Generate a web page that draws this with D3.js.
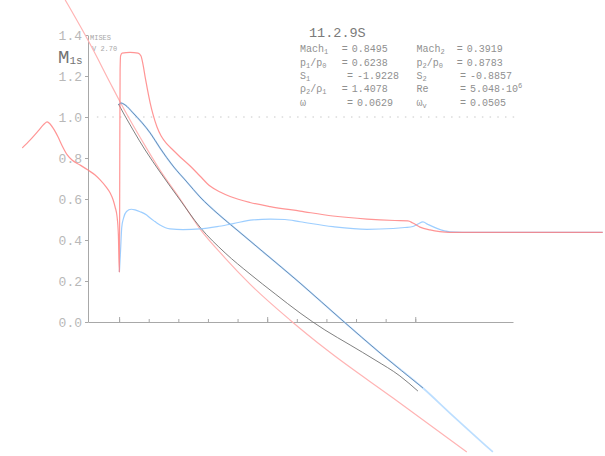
<!DOCTYPE html>
<html>
<head>
<meta charset="utf-8">
<script src="https://cdn.jsdelivr.net/npm/d3@7/dist/d3.min.js"></script>
<style>
  body { margin: 0; background: #fff; }
  svg { display: block; }
  text { font-family: "Liberation Mono", "DejaVu Sans Mono", monospace; }
</style>
</head>
<body>
<script>
// Surface Mach number distributions, x in chord units, values as [x, M]
const machUpper = [
  [-0.327, 0.849], [-0.300, 0.888], [-0.273, 0.932], [-0.253, 0.966], [-0.243, 0.976],
  [-0.233, 0.966], [-0.219, 0.937], [-0.206, 0.902], [-0.192, 0.859], [-0.175, 0.815],
  [-0.159, 0.790], [-0.132, 0.766], [-0.105, 0.741], [-0.081, 0.717], [-0.064, 0.693],
  [-0.044, 0.659], [-0.030, 0.629], [-0.020, 0.595], [-0.0135, 0.561], [-0.0067, 0.512],
  [-0.0024, 0.424], [0.0007, 0.244], [0.0017, 0.449], [0.0024, 0.839], [0.0034, 1.229],
  [0.005, 1.298], [0.010, 1.312], [0.037, 1.315], [0.064, 1.312], [0.074, 1.298],
  [0.081, 1.254], [0.088, 1.195], [0.096, 1.132], [0.105, 1.068], [0.115, 1.010],
  [0.128, 0.951], [0.142, 0.907], [0.162, 0.868], [0.182, 0.839], [0.206, 0.805],
  [0.240, 0.761], [0.273, 0.712], [0.307, 0.663], [0.341, 0.634], [0.375, 0.612],
  [0.442, 0.583], [0.510, 0.563], [0.611, 0.541], [0.722, 0.517], [0.837, 0.502],
  [0.931, 0.495], [0.975, 0.493], [0.992, 0.483], [1.016, 0.463], [1.050, 0.449],
  [1.083, 0.441], [1.117, 0.4376], [1.286, 0.437], [1.633, 0.437]
];

const machLower = [
  [0.001, 0.244], [0.005, 0.351], [0.009, 0.463], [0.015, 0.507], [0.025, 0.539],
  [0.041, 0.550], [0.054, 0.547], [0.071, 0.538], [0.093, 0.522], [0.105, 0.507],
  [0.121, 0.490], [0.138, 0.473], [0.172, 0.454], [0.216, 0.451], [0.273, 0.454],
  [0.331, 0.465], [0.385, 0.480], [0.452, 0.498], [0.510, 0.502], [0.560, 0.500],
  [0.611, 0.489], [0.722, 0.465], [0.837, 0.452], [0.925, 0.456], [0.965, 0.461],
  [0.992, 0.466], [1.009, 0.478], [1.026, 0.488], [1.043, 0.476], [1.073, 0.457],
  [1.117, 0.440], [1.161, 0.4376], [1.633, 0.437]
];

// Streamline / contour traces drawn in the same frame
const refLine = [
  [-0.182, 1.571], [-0.172, 1.546], [-0.098, 1.356], [-0.030, 1.166], [0.000, 1.083],
  [0.037, 0.985], [0.088, 0.859], [0.138, 0.741], [0.206, 0.600], [0.273, 0.454],
  [0.358, 0.312], [0.442, 0.185], [0.577, 0.010], [0.702, -0.137], [0.925, -0.371],
  [1.174, -0.634]
];

const contourGray = [
  [-0.002, 1.063], [0.020, 1.005], [0.047, 0.937], [0.088, 0.839], [0.138, 0.732],
  [0.206, 0.595], [0.273, 0.463], [0.358, 0.337], [0.442, 0.234], [0.527, 0.137],
  [0.611, 0.044], [0.695, -0.039], [0.780, -0.112], [0.864, -0.185], [0.948, -0.263],
  [1.009, -0.337]
];

const contourBlue = [
  [-0.002, 1.059], [0.007, 1.068], [0.020, 1.059], [0.047, 1.020], [0.105, 0.922],
  [0.138, 0.849], [0.182, 0.761], [0.229, 0.683], [0.273, 0.610], [0.334, 0.527],
  [0.398, 0.449], [0.483, 0.346], [0.611, 0.190], [0.756, 0.005], [0.881, -0.151],
  [1.026, -0.322]
];

const contourBlueTail = [
  [1.026, -0.322], [1.117, -0.444], [1.262, -0.634]
];

// Axis ticks
const yTicks = [0, 0.2, 0.4, 0.6, 0.8, 1.0, 1.2, 1.4];
const xTicksMinor = [0, 0.1, 0.2, 0.3, 0.4, 0.5, 0.6, 0.7, 0.8, 0.9, 1.0];
const xTicksMajor = [0, 0.5, 1.0];

// Case title and flow parameters
const caseTitle = "11.2.9S";
const paramsLeft = [
  { name: [["Mach", 0], ["1", 1]], eq: 341.7, val: "0.8495" },
  { name: [["p", 0], ["1", 1], ["/p", 0], ["0", 1]], eq: 341.7, val: "0.6238" },
  { name: [["S", 0], ["1", 1]], eq: 347, val: "-1.9228" },
  { name: [["\u03c1", 0], ["2", 1], ["/\u03c1", 0], ["1", 1]], eq: 341.7, val: "1.4078" },
  { name: [["\u03c9", 0]], eq: 347, val: "0.0629" }
];
const paramsRight = [
  { name: [["Mach", 0], ["2", 1]], eq: 456.7, val: "0.3919" },
  { name: [["p", 0], ["2", 1], ["/p", 0], ["0", 1]], eq: 456.7, val: "0.8783" },
  { name: [["S", 0], ["2", 1]], eq: 460, val: "-0.8857" },
  { name: [["Re", 0]], eq: 460, val: "5.048\u00b710", sup: "6" },
  { name: [["\u03c9", 0], ["v", 1]], eq: 460, val: "0.0505" }
];

const W = 605, H = 456;
const svg = d3.select("body").append("svg").attr("width", W).attr("height", H);

const x = d3.scaleLinear().domain([-0.105, 1.33]).range([88, 513]);
const y = d3.scaleLinear().domain([0, 1.4]).range([322, 35]);

// M = 1 reference
svg.append("line")
  .attr("x1", x(-0.075)).attr("x2", x(1.345))
  .attr("y1", y(1.0)).attr("y2", y(1.0))
  .attr("stroke", "#c8c8c8").attr("stroke-width", 1)
  .attr("stroke-dasharray", "1.5,6.2");

// Axes
const axisColor = "#a8a8a8";
const gx = svg.append("g").attr("transform", `translate(0,${y(0)})`)
  .call(d3.axisTop(x).tickValues(xTicksMinor).tickSize(3).tickSizeOuter(0).tickFormat(""));
const gxMajor = svg.append("g").attr("transform", `translate(0,${y(0)})`)
  .call(d3.axisTop(x).tickValues(xTicksMajor).tickSize(5).tickSizeOuter(0).tickFormat(""));
gxMajor.select(".domain").remove();

const gy = svg.append("g").attr("transform", `translate(${x(-0.105)},0)`)
  .call(d3.axisLeft(y).tickValues(yTicks).tickSize(3).tickSizeOuter(0)
        .tickPadding(3).tickFormat(d3.format(".1f")));

[gx, gxMajor, gy].forEach(g => {
  g.selectAll("path, line").attr("stroke", axisColor).attr("stroke-width", 1);
});
gy.selectAll("text")
  .attr("font-family", "Liberation Mono, DejaVu Sans Mono, monospace")
  .attr("font-size", 13).attr("fill", "#b8b8b8");

// Axis title M_1s
const mLabel = svg.append("text").attr("x", 58).attr("y", 63).attr("fill", "#737373");
mLabel.append("tspan").attr("font-size", 19).text("M");
mLabel.append("tspan").attr("font-size", 11).attr("dy", 1).text("1s");

svg.append("text").attr("x", 90).attr("y", 40).attr("font-size", 7)
  .attr("fill", "#a8a8a8").text("MISES");
svg.append("text").attr("x", 92).attr("y", 51).attr("font-size", 7)
  .attr("fill", "#a8a8a8").text("V 2.70");

// Curves
const line = d3.line().x(d => x(d[0])).y(d => y(d[1])).curve(d3.curveMonotoneX);

function draw(data, color, width, opacity) {
  svg.append("path").datum(data)
    .attr("d", line)
    .attr("fill", "none")
    .attr("stroke", color)
    .attr("stroke-width", width)
    .attr("stroke-opacity", opacity)
    .attr("stroke-linejoin", "round");
}

draw(refLine, "#ffb4b4", 1.2, 1);
draw(contourBlue.concat(contourBlueTail.slice(1)), "#b0d8ff", 1.7, 0.85);
draw(contourGray, "#6a6a6a", 1, 0.85);
draw(contourBlue, "#6a8cb2", 1, 0.95);
draw(machLower, "#8cc6ff", 1.2, 0.85);
draw(machUpper, "#ff7a7a", 1.2, 0.8);

// Title and parameter table
svg.append("text").attr("x", 309).attr("y", 37).attr("font-size", 13.5)
  .attr("fill", "#7a7a7a").text(caseTitle);

const rowY = [52, 65.5, 78.5, 92, 105.5];
const textFill = "#909090";

function drawParams(rows, xName) {
  rows.forEach((r, i) => {
    const t = svg.append("text").attr("x", xName).attr("y", rowY[i])
      .attr("font-size", 10).attr("fill", textFill);
    let shifted = false;
    r.name.forEach(([s, sub]) => {
      const ts = t.append("tspan").attr("font-size", sub ? 7 : 10).text(s);
      if (sub && !shifted) { ts.attr("dy", 2); shifted = true; }
      else if (!sub && shifted) { ts.attr("dy", -2); shifted = false; }
    });
    svg.append("text").attr("x", r.eq).attr("y", rowY[i])
      .attr("font-size", 10).attr("fill", textFill).text("=");
    const v = svg.append("text").attr("x", r.eq + 10).attr("y", rowY[i])
      .attr("font-size", 10).attr("fill", textFill);
    v.append("tspan").text(r.val);
    if (r.sup) v.append("tspan").attr("font-size", 7).attr("dy", -4).text(r.sup);
  });
}
drawParams(paramsLeft, 300);
drawParams(paramsRight, 416.5);
</script>
</body>
</html>
